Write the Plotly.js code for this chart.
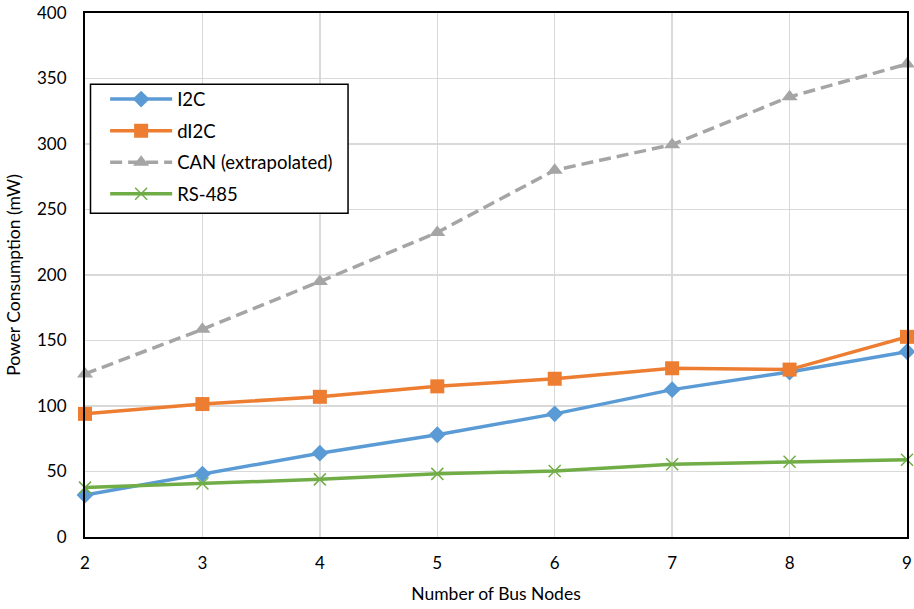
<!DOCTYPE html>
<html>
<head>
<meta charset="utf-8">
<script src="https://cdn.plot.ly/plotly-3.0.1.min.js"></script>
<style>html,body{margin:0;padding:0;background:#fff;}#chart{width:914px;height:609px;}</style>
</head>
<body>
<div id="chart"></div>
<script>
const nodes = [2, 3, 4, 5, 6, 7, 8, 9];
const i2c = [32, 48, 64, 78, 94, 112.5, 126, 141.5];
const di2c = [94, 101.5, 107, 115, 120.8, 128.8, 127.8, 152.8];
const can = [124.5, 158.5, 195, 232.5, 280, 299.5, 336, 361];
const rs485 = [37.7, 40.8, 44, 48.2, 50.4, 55.5, 57.5, 59];
const seriesNames = ["I2C", "dI2C", "CAN (extrapolated)", "RS-485"];
const yTicks = [0, 50, 100, 150, 200, 250, 300, 350, 400];

const font = "Lato, 'Open Sans', sans-serif";
const traces = [
  {x: nodes, y: i2c, name: seriesNames[0], legendgroup: "a", mode: "lines+markers",
   line: {color: "#5B9BD5", width: 3.5}, marker: {symbol: "diamond", size: 13, color: "#5B9BD5"}, cliponaxis: false},
  {x: nodes, y: di2c, name: seriesNames[1], legendgroup: "b", mode: "lines+markers",
   line: {color: "#ED7D31", width: 3.5}, marker: {symbol: "square", size: 14, color: "#ED7D31"}, cliponaxis: false},
  {x: nodes, y: can, name: seriesNames[2], legendgroup: "c", mode: "lines+markers",
   line: {color: "#A5A5A5", width: 3.5, dash: "12px,6px"}, marker: {symbol: "triangle-up", size: 14, color: "#A5A5A5"}, cliponaxis: false},
  {x: nodes, y: rs485, name: seriesNames[3], legendgroup: "d", mode: "lines+markers",
   line: {color: "#70AD47", width: 3.5}, marker: {symbol: "x-thin-open", size: 12, color: "#70AD47", line: {width: 1.5, color: "#70AD47"}}, cliponaxis: false}
];

const layout = {
  width: 914, height: 609,
  margin: {l: 84.5, r: 7, t: 13, b: 72},
  paper_bgcolor: "#fff", plot_bgcolor: "#fff",
  font: {family: font, size: 17, color: "#000"},
  showlegend: true,
  legend: {x: 0.0245, y: 0.871, xanchor: "left", yanchor: "top",
    bgcolor: "rgba(0,0,0,0)", borderwidth: 0,
    font: {family: font, size: 18.5, color: "#000"}, itemwidth: 62, tracegroupgap: 4.5},
  shapes: [{type: "rect", xref: "paper", yref: "paper", x0: 0.0067, x1: 0.32, y0: 0.618, y1: 0.864,
    line: {color: "#000", width: 1.5}, fillcolor: "#fff", layer: "above"}],
  xaxis: {range: [2, 9], tickvals: nodes, ticktext: nodes.map(String), showgrid: true, gridcolor: "#d9d9d9", gridwidth: 1.5,
    zeroline: false, showline: true, linecolor: "#000", linewidth: 2, mirror: true, ticks: "", ticklabelstandoff: 10,
    tickfont: {family: font, size: 17, color: "#000"},
    title: {text: "Number of Bus Nodes", font: {family: font, size: 17.5, color: "#000"}, standoff: 15}},
  yaxis: {range: [0, 400], tickvals: yTicks, showgrid: true, gridcolor: "#d9d9d9", gridwidth: 1.5,
    zeroline: false, showline: true, linecolor: "#000", linewidth: 2, mirror: true, ticks: "", ticklabelstandoff: 13,
    tickfont: {family: font, size: 17, color: "#000"},
    title: {text: "Power Consumption (mW)", font: {family: font, size: 17.5, color: "#000"}, standoff: 12}}
};
Plotly.newPlot("chart", traces, layout, {staticPlot: true});
</script>
</body>
</html>
